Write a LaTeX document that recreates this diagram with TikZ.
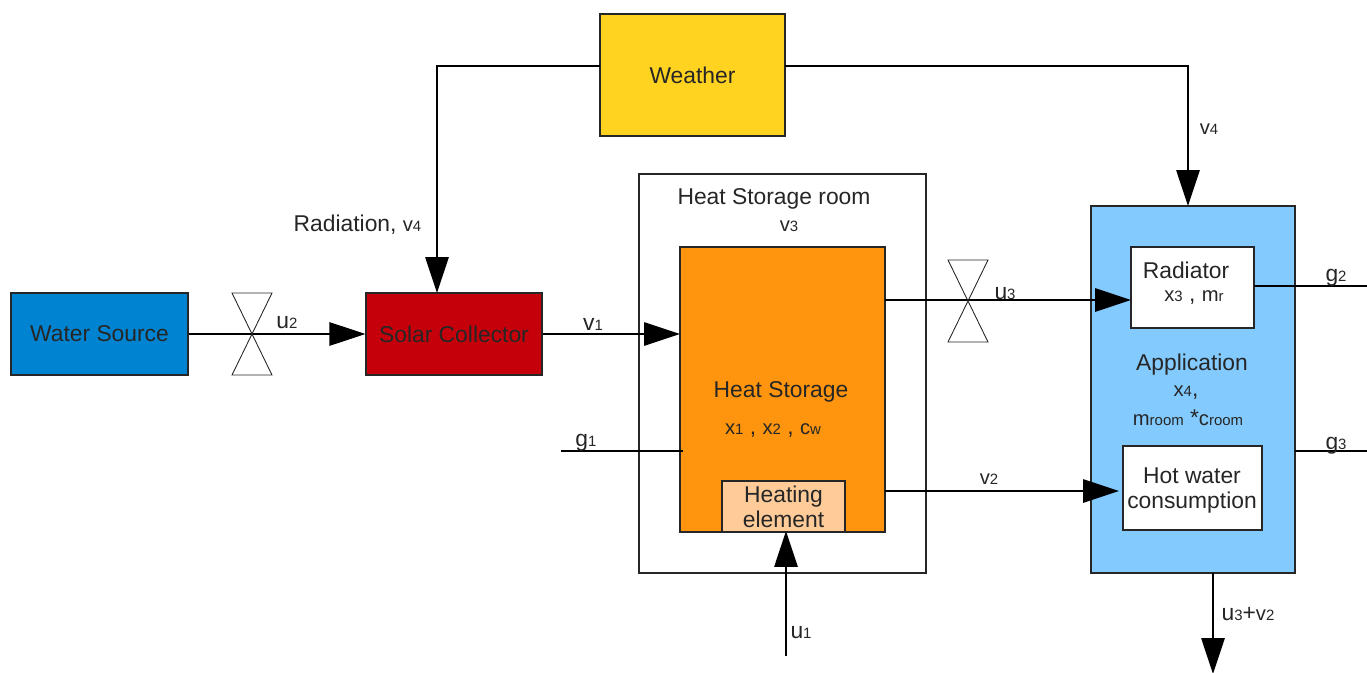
\documentclass[tikz,border=0pt]{standalone}
\usepackage{fontspec}
\setmainfont{Liberation Sans}
\usepackage{xcolor}
\usetikzlibrary{arrows.meta}
\definecolor{watercol}{HTML}{0084D1}
\definecolor{solarcol}{HTML}{C5000B}
\definecolor{weathercol}{HTML}{FFD320}
\definecolor{storagecol}{HTML}{FF950E}
\definecolor{heatcol}{HTML}{FFCC99}
\definecolor{appcol}{HTML}{83CAFF}
\newcommand{\low}[1]{{\fontsize{8.5}{9}\selectfont #1}}
\newcommand{\sym}[1]{{\fontsize{11.5}{12}\selectfont #1}}
\tikzset{every node/.append style={font=\fontsize{13}{14.2}\selectfont, inner sep=0pt, text=black!85}}
\tikzset{
  blockbox/.style={draw=black!85, line width=0.65pt, align=center},
  flow/.style={line width=0.7pt, -{Triangle[length=0.72cm, width=0.47cm]}},
  wire/.style={line width=0.7pt},
  valve/.style={draw=black!85, line width=0.5pt},
  lab/.style={yshift=-0.6pt, align=center}
}
\begin{document}
\begin{tikzpicture}[x=0.02cm, y=-0.02cm]
    \useasboundingbox (0,0) rectangle (1367,673);
    % blocks
    \node[blockbox, fill=watercol, minimum width=3.54cm, minimum height=1.64cm] (water) at (99.5,334) {Water Source};
    \node[blockbox, fill=solarcol, minimum width=3.52cm, minimum height=1.64cm] (solar) at (454,334) {Solar Collector};
    \node[blockbox, fill=weathercol, minimum width=3.7cm, minimum height=2.44cm] (weather) at (692.5,75) {Weather};
    \node[blockbox, fill=white, minimum width=5.74cm, minimum height=7.98cm] (room) at (782.5,373.5) {};
    \node[blockbox, fill=storagecol, minimum width=4.1cm, minimum height=5.7cm] (storage) at (782.5,389.5) {};
    \node[blockbox, fill=heatcol, minimum width=2.46cm, minimum height=1.02cm] (heating) at (783.5,506.5) {Heating\\element};
    \node[blockbox, fill=appcol, minimum width=4.08cm, minimum height=7.34cm] (app) at (1193,389.5) {};
    \node[blockbox, fill=white, minimum width=2.46cm, minimum height=1.62cm] (radiator) at (1192.5,287.5) {};
    \node[blockbox, fill=white, minimum width=2.78cm, minimum height=1.68cm] (hot) at (1192.5,488) {};
    % free ends
    \coordinate (weatherL) at (600,66);
    \coordinate (weatherR) at (785,66);
    \coordinate (radIn) at (437,293);
    \coordinate (appIn) at (1188,206);
    \coordinate (v1In) at (680,334);
    \coordinate (g1Start) at (561,451);
    \coordinate (g1End) at (683,451);
    \coordinate (u3Start) at (885,300);
    \coordinate (u3End) at (1131,300);
    \coordinate (v2Start) at (885,491);
    \coordinate (v2End) at (1119,491);
    \coordinate (u1Start) at (786,656);
    \coordinate (u1End) at (786,531);
    \coordinate (g2Start) at (1254,286);
    \coordinate (g2End) at (1367,286);
    \coordinate (g3Start) at (1295,451);
    \coordinate (g3End) at (1367,451);
    \coordinate (outStart) at (1213,573);
    \coordinate (outEnd) at (1213,674);
    \coordinate (valveA) at (252,334);
    \coordinate (valveB) at (968,301);
    % connectors
    \draw[flow] (water.east) -- (solar.west);
    \draw[flow] (solar.east) -- (v1In);
    \draw[flow] (weatherL) -| (radIn);
    \draw[flow] (weatherR) -| (appIn);
    \draw[wire] (g1Start) -- (g1End);
    \draw[flow] (u3Start) -- (u3End);
    \draw[flow] (v2Start) -- (v2End);
    \draw[flow] (u1Start) -- (u1End);
    \draw[wire] (g2Start) -- (g2End);
    \draw[wire] (g3Start) -- (g3End);
    \draw[flow] (outStart) -- (outEnd);
    % valves
    \draw[valve] (valveA) -- ++(-20,-41) -- ++(40,0) -- ++(-40,82) -- ++(40,0) -- cycle;
    \draw[valve] (valveB) -- ++(-20,-41) -- ++(40,0) -- ++(-40,82) -- ++(40,0) -- cycle;
    % labels
    \node[lab] (lblRad) at (357.5,224) {Radiation, \sym{v}\low{4}};
    \node[lab] (lblU2) at (287,322) {u\low{2}};
    \node[lab] (lblV1) at (593,323) {v\low{1}};
    \node[lab] (lblRoom) at (774,198) {Heat Storage room};
    \node[lab] (lblV3) at (789,225) {\sym{v}\low{3}};
    \node[lab] (lblU3) at (1005,293) {u\low{3}};
    \node[lab] (lblV4) at (1209,128) {\sym{v}\low{4}};
    \node[lab] (lblG1) at (586,442) {g\low{1}};
    \node[lab] (lblV2) at (989,478) {\sym{v}\low{2}};
    \node[lab] (lblU1) at (801,632) {u\low{1}};
    \node[lab] (lblG2) at (1336,277) {g\low{2}};
    \node[lab] (lblG3) at (1336,445) {g\low{3}};
    \node[lab] (lblOut) at (1248,613) {u\low{3}+\sym{v}\low{2}};
    \node[lab] (lblStore) at (781,391) {Heat Storage};
    \node[lab] (lblStates) at (773,429) {\sym{x}\low{1} , \sym{x}\low{2} , \sym{c}\low{w}};
    \node[lab] (lblRadi) at (1186,269) {Radiator};
    \node[lab] (lblX3) at (1194,296) {\sym{x}\low{3} , \sym{m}\low{r}};
    \node[lab] (lblApp) at (1192,364) {Application};
    \node[lab] (lblX4) at (1186,392) {\sym{x}\low{4},};
    \node[lab] (lblM) at (1188,417) {\sym{m}\low{room} *\sym{c}\low{room}};
    \node[lab] (lblHot) at (1192,489) {Hot water\\consumption};
\end{tikzpicture}
\end{document}
